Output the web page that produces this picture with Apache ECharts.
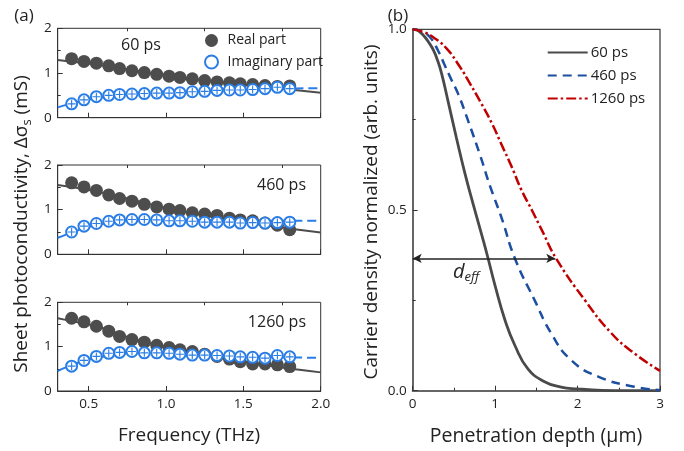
<!DOCTYPE html>
<html>
<head>
<meta charset="utf-8">
<script src="https://cdn.jsdelivr.net/npm/echarts@6/dist/echarts.min.js"></script>
<style>
html,body{margin:0;padding:0;background:#fff;}
#c{width:684px;height:451px;}
</style>
</head>
<body>
<div id="c"></div>
<script>
// ---- Panel (a) data ----
const freq = [0.39,0.47,0.55,0.63,0.70,0.78,0.86,0.94,1.02,1.09,1.17,1.25,1.33,1.41,1.48,1.56,1.64,1.72,1.80];
const real60   = [1.32,1.26,1.22,1.16,1.10,1.05,1.01,0.97,0.93,0.90,0.87,0.83,0.80,0.78,0.76,0.74,0.72,0.70,0.71];
const imag60   = [0.31,0.40,0.47,0.50,0.52,0.53,0.54,0.55,0.55,0.56,0.58,0.59,0.61,0.62,0.62,0.63,0.65,0.68,0.65];
const real460  = [1.60,1.51,1.43,1.33,1.25,1.19,1.12,1.06,1.01,0.98,0.93,0.90,0.87,0.81,0.77,0.75,0.70,0.65,0.55];
const imag460  = [0.50,0.63,0.69,0.74,0.77,0.78,0.78,0.77,0.75,0.75,0.74,0.72,0.72,0.72,0.70,0.71,0.70,0.71,0.72];
const real1260 = [1.64,1.56,1.46,1.35,1.23,1.16,1.10,1.03,0.98,0.93,0.89,0.83,0.78,0.72,0.66,0.61,0.61,0.59,0.55];
const imag1260 = [0.56,0.69,0.78,0.85,0.87,0.89,0.86,0.86,0.85,0.83,0.81,0.81,0.80,0.79,0.77,0.76,0.74,0.80,0.77];

const fitX = [0.3,0.4,0.5,0.6,0.75,1.0,1.25,1.5,1.75,2.0];
const fitReal60   = [1.29,1.25,1.21,1.16,1.08,0.95,0.84,0.74,0.65,0.56];
const fitImag60   = [0.23,0.33,0.41,0.46,0.50,0.55,0.59,0.62,0.65,0.66];
const fitReal460  = [1.55,1.50,1.44,1.37,1.25,1.04,0.87,0.72,0.60,0.49];
const fitImag460  = [0.37,0.50,0.61,0.69,0.76,0.78,0.77,0.76,0.75,0.75];
const fitReal1260 = [1.64,1.57,1.50,1.41,1.22,0.98,0.82,0.67,0.53,0.42];
const fitImag1260 = [0.45,0.60,0.71,0.78,0.85,0.86,0.83,0.79,0.76,0.75];

const delayLabels = ['60 ps','460 ps','1260 ps'];
const freqTicks = [0.5,1.0,1.5,2.0];
const freqMinorTicks = [0.75,1.25,1.75];

// ---- Panel (b) data ----
const depth60   = [0,0.05,0.1,0.15,0.2,0.25,0.3,0.35,0.43,0.53,0.635,0.735,0.845,0.91,1.0,1.12,1.24,1.4,1.6,1.8,2.0,2.3,2.6,3.0];
const dens60    = [1.0,0.998,0.99,0.978,0.962,0.943,0.915,0.878,0.80,0.70,0.60,0.515,0.425,0.37,0.29,0.195,0.125,0.06,0.025,0.01,0.005,0.001,0,0];
const depth460  = [0,0.1,0.21,0.31,0.39,0.47,0.55,0.675,0.82,0.94,1.08,1.24,1.48,1.68,1.92,2.25,2.69,3.0];
const dens460   = [1.0,0.995,0.978,0.94,0.90,0.86,0.822,0.745,0.65,0.565,0.477,0.366,0.25,0.159,0.085,0.039,0.011,0.002];
const depth1260 = [0,0.125,0.25,0.41,0.57,0.695,0.82,0.96,1.08,1.2,1.32,1.445,1.565,1.74,2.09,2.41,2.69,3.0];
const dens1260  = [1.0,0.993,0.978,0.947,0.897,0.85,0.80,0.74,0.68,0.62,0.555,0.50,0.445,0.366,0.25,0.159,0.103,0.055];
const deffX = [0, 1.73];
const deffY = 0.366;

// ---- build ----
const FONT = '"Open Sans", "Noto Sans", sans-serif';
const zip = (xs, ys) => xs.map((x, i) => [x, ys[i]]);
const reals = [real60, real460, real1260];
const imags = [imag60, imag460, imag1260];
const fitReals = [fitReal60, fitReal460, fitReal1260];
const fitImags = [fitImag60, fitImag460, fitImag1260];

const GREY = '#4d4d4d';
const BLUE = '#2a7de6';
const gridTops = [28.3, 165, 302.3];
const gridHs = [89.4, 89.3, 88.7];

const grids = [], xAxes = [], yAxes = [], series = [];
for (let i = 0; i < 3; i++) {
  grids.push({left: 57.7, top: gridTops[i], width: 263, height: gridHs[i], show: true,
    borderColor: '#333', borderWidth: 1, containLabel: false});
  xAxes.push({type: 'value', gridIndex: i, min: 0.3, max: 2.0,
    axisLine: {show: true, lineStyle: {color: '#333', width: 1}},
    axisTick: {show: true, inside: true, length: 5, customValues: freqTicks, lineStyle: {color: '#333'}},
    axisLabel: {show: i === 2, customValues: freqTicks, margin: 6, fontSize: 13.5, color: '#222',
      fontFamily: FONT, formatter: v => v.toFixed(1)},
    splitLine: {show: false}});
  xAxes.push({type: 'value', gridIndex: i, min: 0.3, max: 2.0,
    axisLine: {show: false},
    axisTick: {show: true, inside: true, length: 3, customValues: freqMinorTicks, lineStyle: {color: '#333'}},
    axisLabel: {show: false}, splitLine: {show: false}});
  yAxes.push({type: 'value', gridIndex: i, min: 0, max: 2, interval: 1,
    axisLine: {show: true, lineStyle: {color: '#333', width: 1}},
    axisTick: {show: true, inside: true, length: 5, lineStyle: {color: '#333'}},
    minorTick: {show: true, splitNumber: 2, length: 3, lineStyle: {color: '#333'}},
    axisLabel: {show: true, margin: 6, fontSize: 13.5, color: '#222', fontFamily: FONT},
    splitLine: {show: false}});
  const xi = i * 2;
  series.push({type: 'line', name: 'fitR' + i, xAxisIndex: xi, yAxisIndex: i, data: zip(fitX, fitReals[i]),
    symbol: 'none', smooth: 0.4, lineStyle: {color: GREY, width: 2}, z: 1, silent: true});
  series.push({type: 'line', name: 'fitI' + i, xAxisIndex: xi, yAxisIndex: i, data: zip(fitX, fitImags[i]),
    symbol: 'none', smooth: 0.4, lineStyle: {color: BLUE, width: 2, type: [9, 5]}, z: 1, silent: true});
  series.push({type: 'scatter', name: 'Real part', xAxisIndex: xi, yAxisIndex: i, data: zip(freq, reals[i]),
    symbol: 'circle', symbolSize: 13, itemStyle: {color: GREY, opacity: 1}, z: 3});
  series.push({type: 'scatter', name: 'Imaginary part', xAxisIndex: xi, yAxisIndex: i, data: zip(freq, imags[i]),
    symbol: 'circle', symbolSize: 11, itemStyle: {color: '#ffffff', borderColor: BLUE, borderWidth: 2, opacity: 1}, z: 4});
  series.push({type: 'scatter', name: 'imagBar' + i, xAxisIndex: xi, yAxisIndex: i, data: zip(freq, imags[i]),
    symbol: 'path://M0,4.3 H10 V5.7 H0 Z M4.3,0 H5.7 V10 H4.3 Z', symbolSize: 8,
    itemStyle: {color: BLUE, opacity: 1}, z: 5, silent: true});
}

grids.push({left: 412.7, top: 29.3, width: 247.3, height: 361.4, show: true,
  borderColor: '#444', borderWidth: 1.3});
xAxes.push({type: 'value', gridIndex: 3, min: 0, max: 3, interval: 1,
  axisLine: {show: true, lineStyle: {color: '#666', width: 2}},
  axisTick: {show: true, inside: true, length: 5, lineStyle: {color: '#333'}},
  minorTick: {show: true, splitNumber: 2, length: 3, lineStyle: {color: '#333'}},
  axisLabel: {show: true, margin: 6, fontSize: 13.5, color: '#222', fontFamily: FONT},
  splitLine: {show: false}});
yAxes.push({type: 'value', gridIndex: 3, min: 0, max: 1, interval: 0.5,
  axisLine: {show: true, lineStyle: {color: '#666', width: 2}},
  axisTick: {show: true, inside: true, length: 5, lineStyle: {color: '#333'}},
  minorTick: {show: true, splitNumber: 2, length: 3, lineStyle: {color: '#333'}},
  axisLabel: {show: true, margin: 6, fontSize: 13.5, color: '#222', fontFamily: FONT, formatter: v => v.toFixed(1)},
  splitLine: {show: false}});
const xb = 6, yb = 3;
series.push({type: 'line', name: delayLabels[0], xAxisIndex: xb, yAxisIndex: yb, data: zip(depth60, dens60),
  symbol: 'none', smooth: 0.5, lineStyle: {color: '#4a4a4a', width: 2.8}, itemStyle: {color: '#4a4a4a'}, z: 3});
series.push({type: 'line', name: delayLabels[1], xAxisIndex: xb, yAxisIndex: yb, data: zip(depth460, dens460),
  symbol: 'none', smooth: 0.5, lineStyle: {color: '#1c4fa0', width: 2.5, type: [9, 6]}, itemStyle: {color: '#1c4fa0'}, z: 3});
series.push({type: 'line', name: delayLabels[2], xAxisIndex: xb, yAxisIndex: yb, data: zip(depth1260, dens1260),
  symbol: 'none', smooth: 0.5, lineStyle: {color: '#c00000', width: 2.5, type: [10, 3, 2.5, 3]}, itemStyle: {color: '#c00000'}, z: 3});
series.push({type: 'line', name: 'deff', xAxisIndex: xb, yAxisIndex: yb, data: [], symbol: 'none',
  markLine: {silent: true, symbol: ['arrow', 'arrow'], symbolSize: [7, 9],
    lineStyle: {color: '#222', width: 1.5, type: 'solid'}, label: {show: false},
    data: [[{coord: [deffX[0], deffY]}, {coord: [deffX[1], deffY]}]]}, z: 4});

const option = {
  animation: false,
  backgroundColor: '#ffffff',
  textStyle: {fontFamily: FONT},
  grid: grids,
  xAxis: xAxes,
  yAxis: yAxes,
  legend: [
    {data: ['Real part', 'Imaginary part'], orient: 'vertical', left: 204, top: 33.5,
     itemWidth: 14, itemHeight: 13, itemGap: 7, padding: 0, selectedMode: false,
     textStyle: {fontSize: 14, color: '#222', fontFamily: FONT, padding: [0, 0, 0, 4]}},
    {data: delayLabels, orient: 'vertical', left: 546.7, top: 45, itemWidth: 40, itemHeight: 14,
     itemGap: 8, padding: 0, selectedMode: false,
     itemStyle: {color: 'rgba(0,0,0,0)', borderWidth: 0, opacity: 0},
     textStyle: {fontSize: 15, color: '#222', fontFamily: FONT, padding: [0, 0, 0, -2]}}
  ],
  graphic: [
    {type: 'text', x: 24, y: 16, style: {text: '(a)', font: '17px ' + FONT, fill: '#222', align: 'center', verticalAlign: 'middle'}},
    {type: 'text', x: 398, y: 16, style: {text: '(b)', font: '17px ' + FONT, fill: '#222', align: 'center', verticalAlign: 'middle'}},
    {type: 'text', x: 141, y: 45, style: {text: delayLabels[0], font: '16px ' + FONT, fill: '#222', align: 'center', verticalAlign: 'middle'}},
    {type: 'text', x: 306, y: 185, style: {text: delayLabels[1], font: '16px ' + FONT, fill: '#222', align: 'right', verticalAlign: 'middle'}},
    {type: 'text', x: 306, y: 322, style: {text: delayLabels[2], font: '16px ' + FONT, fill: '#222', align: 'right', verticalAlign: 'middle'}},
    {type: 'text', x: 189, y: 436, style: {text: 'Frequency (THz)', font: '19px ' + FONT, fill: '#222', align: 'center', verticalAlign: 'middle'}},
    {type: 'text', x: 536, y: 436, style: {text: 'Penetration depth (μm)', font: '19.5px ' + FONT, fill: '#222', align: 'center', verticalAlign: 'middle'}},
    {type: 'text', x: 22, y: 224, rotation: Math.PI / 2,
     style: {text: 'Sheet photoconductivity, Δσ{s|s} (mS)', font: '19px ' + FONT, fill: '#222', align: 'center', verticalAlign: 'middle',
       rich: {s: {fontSize: 13, fontFamily: FONT, fill: '#222', padding: [10, 0, 0, 0]}}}},
    {type: 'text', x: 372, y: 212, rotation: Math.PI / 2,
     style: {text: 'Carrier density normalized (arb. units)', font: '19px ' + FONT, fill: '#222', align: 'center', verticalAlign: 'middle'}},
    {type: 'text', x: 466, y: 272, z: 10,
     style: {text: '{d|d}{e|eff}', align: 'center', verticalAlign: 'middle', fill: '#222',
       rich: {d: {fontSize: 20, fontStyle: 'italic', fontFamily: FONT, fill: '#222'},
              e: {fontSize: 13, fontStyle: 'italic', fontFamily: FONT, fill: '#222', padding: [10, 0, 0, 0]}}}}
  ],
  series: series
};
const chart = echarts.init(document.getElementById('c'), null, {renderer: 'canvas'});
chart.setOption(option);
</script>
</body>
</html>
